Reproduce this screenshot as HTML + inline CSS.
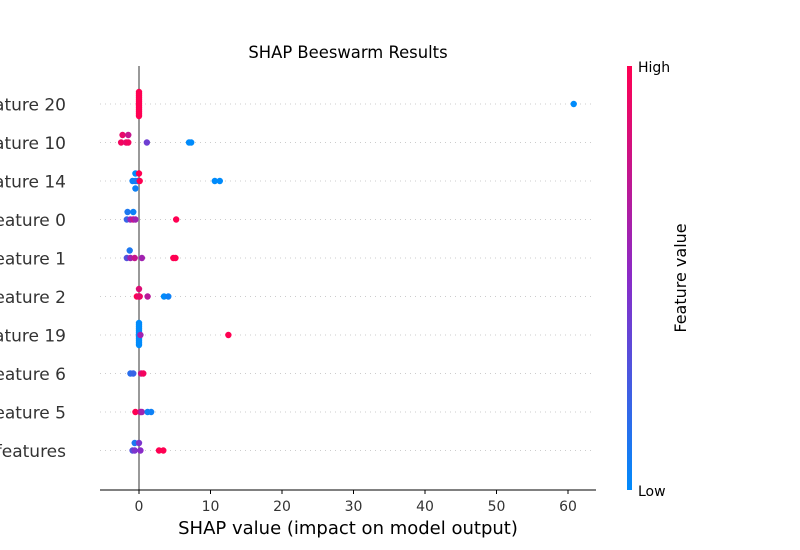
<!DOCTYPE html>
<html><head><meta charset="utf-8"><style>
body{margin:0;background:#fff}
svg{display:block;font-family:"DejaVu Sans","Liberation Sans",sans-serif}
</style></head><body>
<svg id="chart" width="800" height="550" viewBox="0 0 800 550">
<defs><linearGradient id="cb" x1="0" y1="1" x2="0" y2="0">
<stop offset="0" stop-color="#008bfb"/><stop offset="0.5" stop-color="#8a2bc8"/><stop offset="1" stop-color="#ff0052"/>
</linearGradient></defs>
<text x="348" y="58" text-anchor="middle" font-size="16.4" fill="#000">SHAP Beeswarm Results</text>
<g id="grid"></g>
<line x1="139" y1="66" x2="139" y2="490" stroke="#999" stroke-width="2"/>
<g id="dots"></g>
<line x1="100" y1="490" x2="596" y2="490" stroke="#000" stroke-width="1"/>
<g id="xticks"></g>
<g id="ylabels"></g>
<text x="348" y="534" text-anchor="middle" font-size="18" fill="#000">SHAP value (impact on model output)</text>
<rect x="627" y="66" width="5" height="424" fill="url(#cb)"/>
<text x="638" y="72" font-size="14" fill="#000">High</text>
<text x="638" y="496" font-size="14" fill="#000">Low</text>
<text transform="translate(686,278) rotate(-90)" text-anchor="middle" font-size="16" fill="#000">Feature value</text>
</svg>
<script>
const features = ["Feature 20","Feature 10","Feature 14","Feature 0","Feature 1","Feature 2","Feature 19","Feature 6","Feature 5","Sum of 11 other features"];
const xTicks = [0,10,20,30,40,50,60];
// points: row index, shap value, feature value (0 low..1 high), vertical jitter level
const rowIdx = [0,0,0,0,0,0,0,0,0,0,0,0,0,0,
 1,1,1,1,1,1,1,1,
 2,2,2,2,2,2,2,2,2,
 3,3,3,3,3,3,3,
 4,4,4,4,4,4,4,
 5,5,5,5,5,5,5,
 6,6,6,6,6,6,6,6,6,6,6,6,6,6,
 7,7,7,7,
 8,8,8,8,8,
 9,9,9,9,9,9,9];
const shapVals = [0,0,0,0,0,0,0,0,0,0,0,0,0,60.8,
 -2.3,-1.5,-2.5,-1.8,-1.5,1.1,7.0,7.3,
 -0.5,0.0,-0.9,-0.5,-0.2,0.1,10.6,11.3,-0.5,
 -1.6,-0.8,-1.7,-1.2,-0.8,-0.5,5.2,
 -1.3,-1.7,-1.2,-0.6,0.4,4.8,5.1,
 0.0,-0.3,0.1,1.2,3.5,4.1,0.0,
 0,0,0,0,0,0,0,0,0,0,0,0,0.2,12.5,
 -1.2,-0.8,0.3,0.6,
 -0.5,0.2,0.4,1.2,1.7,
 -0.6,0.0,-0.9,-0.6,0.2,2.8,3.4];
const featVals = [1,1,1,1,1,1,1,1,1,1,1,1,1,0,
 0.9,0.75,0.95,0.9,0.95,0.4,0,0,
 0,1,0.05,0.05,0.1,1,0,0,0.05,
 0.1,0.05,0.2,0.55,0.75,0.6,1,
 0.1,0.3,0.6,0.75,0.6,1,1,
 0.85,1,0.95,0.7,0,0.05,0.9,
 0,0,0,0,0,0,0,0,0,0,0,0,0.6,1,
 0.15,0.2,0.8,0.95,
 1,0.8,0.6,0.05,0.05,
 0.1,0.45,0.3,0.45,0.5,1,1];
const jitter = [-6,-5,-4,-3,-2,-1,0,1,2,3,4,5,6,0,
 -1,-1,0,0,0,0,0,0,
 -1,-1,0,0,0,0,0,0,1,
 -1,-1,0,0,0,0,0,
 -1,0,0,0,0,0,0,
 -1,0,0,0,0,0,0,
 -6,-5,-4,-3,-2,-1,0,1,2,3,4,5,0,0,
 0,0,0,0,
 0,0,0,0,0,
 -1,-1,0,0,0,0,0];
const NS='http://www.w3.org/2000/svg';
const X0=139, PX=7.15, Y0=104, ROWH=38.5, JIT=7.5;
const xs=v=>X0+v*PX, ys=i=>Y0+i*ROWH;
function lerp(a,b,t){return Math.round(a+(b-a)*t)}
function col(t){const s=[[0,139,251],[138,43,200],[255,0,82]];let a,b,u;if(t<0.5){a=s[0];b=s[1];u=t/0.5}else{a=s[1];b=s[2];u=(t-0.5)/0.5}return `rgb(${lerp(a[0],b[0],u)},${lerp(a[1],b[1],u)},${lerp(a[2],b[2],u)})`}
const grid=document.getElementById('grid'), dots=document.getElementById('dots'), xt=document.getElementById('xticks'), yl=document.getElementById('ylabels');
features.forEach((f,i)=>{
 const l=document.createElementNS(NS,'line');
 l.setAttribute('x1',100);l.setAttribute('x2',594);l.setAttribute('y1',ys(i));l.setAttribute('y2',ys(i));
 l.setAttribute('stroke','#ccc');l.setAttribute('stroke-dasharray','1,4');
 
 
 grid.appendChild(l);
 const t=document.createElementNS(NS,'text');
 t.setAttribute('x',66);t.setAttribute('y',ys(i)+6.5);t.setAttribute('text-anchor','end');t.setAttribute('font-size','17');t.setAttribute('fill','#333');
 t.textContent=f;
 
 
 yl.appendChild(t);
});
xTicks.forEach(v=>{
 const l=document.createElementNS(NS,'line');
 l.setAttribute('x1',xs(v));l.setAttribute('x2',xs(v));l.setAttribute('y1',490);l.setAttribute('y2',494);l.setAttribute('stroke','#000');
 
 
 xt.appendChild(l);
 const t=document.createElementNS(NS,'text');
 t.setAttribute('x',xs(v));t.setAttribute('y',511);t.setAttribute('text-anchor','middle');t.setAttribute('font-size','14');t.setAttribute('fill','#333');
 t.textContent=v;
 
 
 xt.appendChild(t);
});
shapVals.forEach((v,k)=>{
 const c=document.createElementNS(NS,'circle');
 c.setAttribute('cx',xs(v));c.setAttribute('cy',ys(rowIdx[k])+jitter[k]*(rowIdx[k]===0||rowIdx[k]===6?2:JIT));
 c.setAttribute('r',3.2);c.setAttribute('fill',col(featVals[k]));
 
 
 dots.appendChild(c);
});
</script>
</body></html>
